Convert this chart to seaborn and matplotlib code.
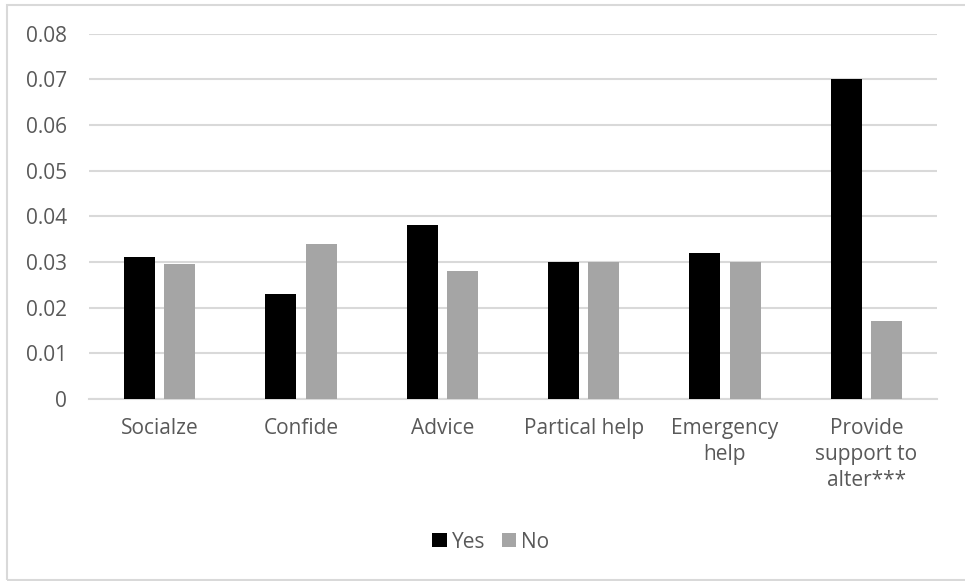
import matplotlib
matplotlib.use("Agg")
import matplotlib.pyplot as plt
from matplotlib.patches import Rectangle
import seaborn as sns
import pandas as pd

categories = ["Socialze", "Confide", "Advice", "Partical help",
              "Emergency\nhelp", "Provide\nsupport to\nalter***"]
yes_values = [0.031, 0.023, 0.038, 0.030, 0.032, 0.070]
no_values = [0.0295, 0.034, 0.028, 0.030, 0.030, 0.017]
series = ["Yes", "No"]
y_ticks = [0, 0.01, 0.02, 0.03, 0.04, 0.05, 0.06, 0.07, 0.08]
y_tick_labels = ["0", "0.01", "0.02", "0.03", "0.04", "0.05", "0.06", "0.07", "0.08"]

df = pd.DataFrame({
    "category": categories * 2,
    "group": [series[0]] * len(categories) + [series[1]] * len(categories),
    "value": yes_values + no_values,
})

sns.set_theme(style="white")
plt.rcParams["font.family"] = ["Open Sans", "DejaVu Sans"]

TEXT = "#595959"
GRID = "#D9D9D9"
FS = 15

W, H = 965, 581
fig = plt.figure(figsize=(W / 100, H / 100), dpi=100)
fig.patch.set_facecolor("white")

# outer chart frame
fig.add_artist(Rectangle((7 / W, 1 - 580 / H), (W + 10 - 7) / W, (580 - 5) / H,
                         transform=fig.transFigure, fill=False,
                         edgecolor=GRID, linewidth=1.5))

left, right, top, bottom = 89, 937, 33.5, 399
ax = fig.add_axes([left / W, 1 - bottom / H, (right - left) / W, (bottom - top) / H])

sns.barplot(data=df, x="category", y="value", hue="group", order=categories,
            hue_order=series, palette=["#000000", "#A5A5A5"],
            width=0.573, gap=0.232, ax=ax, errorbar=None, saturation=1,
            edgecolor="none", linewidth=0, zorder=3)

ax.set_xlim(-0.5, len(categories) - 0.5)
ax.set_ylim(0, 0.08)
ax.set_yticks(y_ticks)
ax.set_yticklabels(y_tick_labels)
ax.yaxis.grid(True, color=GRID, linewidth=1.5, zorder=0)
ax.set_axisbelow(True)
for side in ["left", "right", "top"]:
    ax.spines[side].set_visible(False)
ax.spines["bottom"].set_color(GRID)
ax.spines["bottom"].set_linewidth(1.5)
ax.tick_params(axis="both", length=0, labelsize=FS, labelcolor=TEXT)
ax.tick_params(axis="y", pad=16)
ax.tick_params(axis="x", pad=14)
for lbl in ax.get_xticklabels():
    lbl.set_linespacing(1.3)
ax.set_xlabel("")
ax.set_ylabel("")

handles, labels = ax.get_legend_handles_labels()
ax.legend(handles, labels, loc="center", bbox_to_anchor=(491 / W, 1 - 542 / H),
          bbox_transform=fig.transFigure, ncol=2, frameon=False,
          fontsize=FS, labelcolor=TEXT, handlelength=0.68, handleheight=0.68,
          handletextpad=0.25, columnspacing=0.8)

fig.savefig("out.png", dpi=100, facecolor="white")
